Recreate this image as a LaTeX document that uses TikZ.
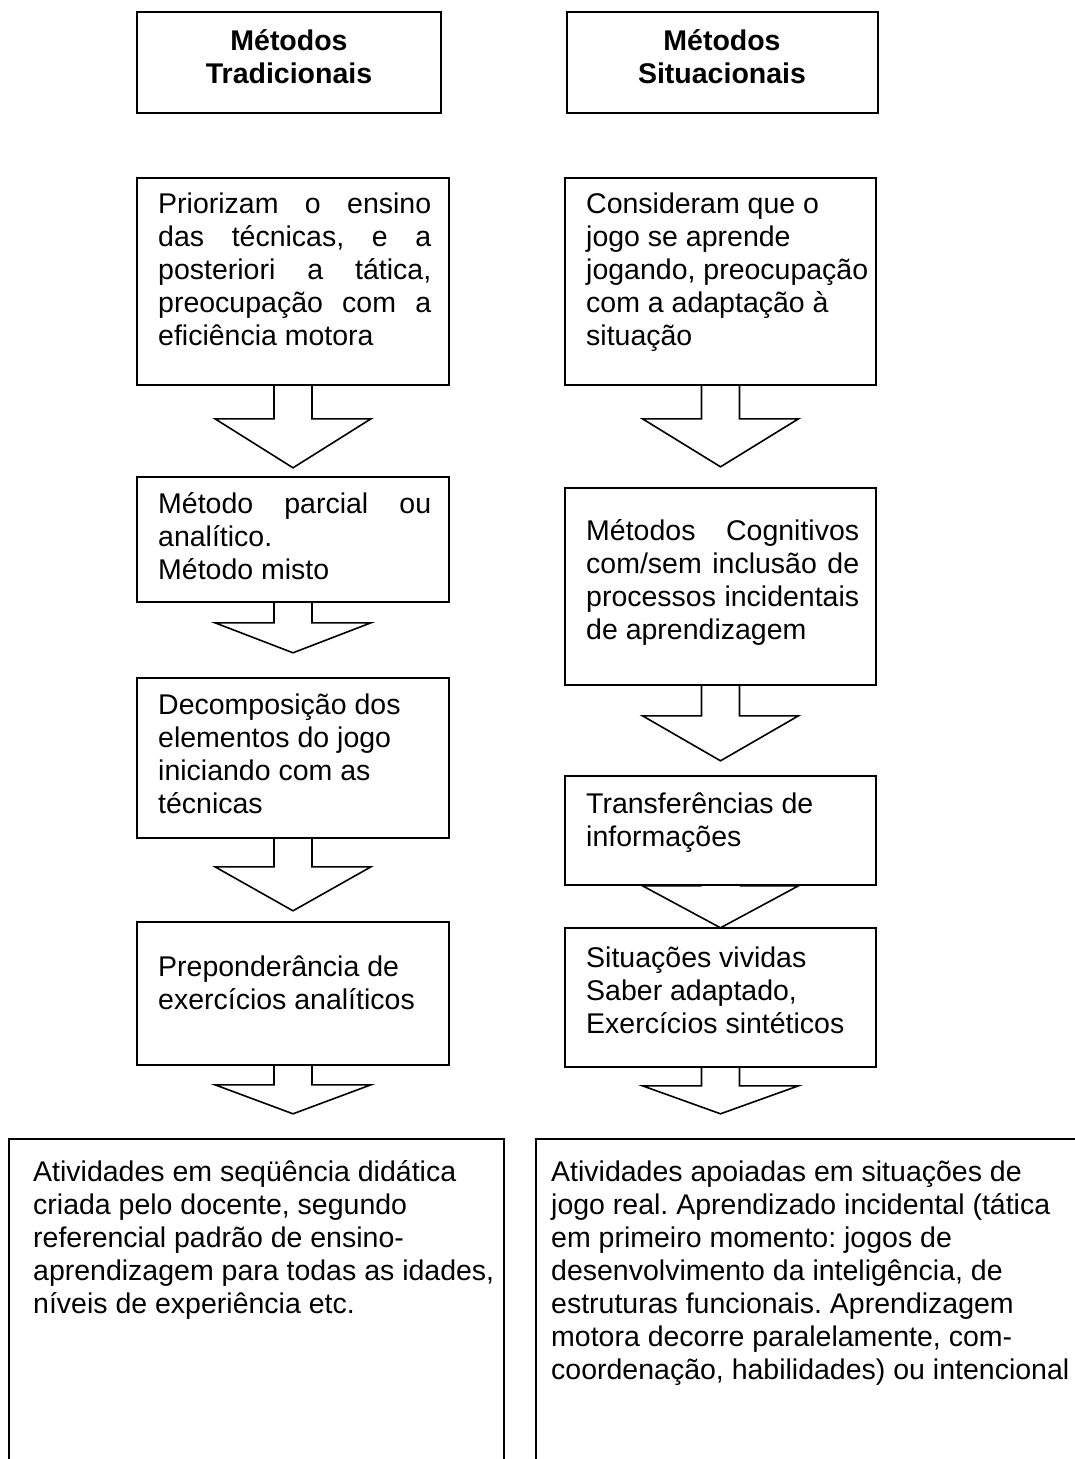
\documentclass[tikz,border=0pt]{standalone}
\usepackage{fontspec}
\setmainfont{Liberation Sans}
\usetikzlibrary{calc,fit}
\frenchspacing

\newlength\colw
\setlength\colw{273pt}
% a justified line: the spaces stretch to the full column width
\newcommand\jline[1]{\makebox[\colw][s]{#1}}
% hollow block arrow hanging below a box: start, stem length, head length
\newcommand\blockarrow[3]{%
  \draw[barrow] ([xshift=-19pt]#1) -- ++(0,#2) -- ++(-59,0) -- ++(78,#3)
    -- ++(78,-#3) -- ++(-59,0) -- ++(0,-#2);}

\begin{document}
\begin{tikzpicture}[x=1pt,y=-1pt,
  frame/.style={draw, line width=1.6pt, rectangle, inner sep=0pt},
  barrow/.style={draw, line width=1.6pt, line join=miter},
  txt/.style={anchor=base west, inner sep=0pt, font=\fontsize{28.5}{33}\selectfont},
  head/.style={anchor=base, inner sep=0pt, font=\bfseries\fontsize{28.5}{33}\selectfont}]
\useasboundingbox (0,0) rectangle (1074,1459);

% column headings
\node[frame, fit={(137,12) (441,113)}] (TL) {};
\node[frame, fit={(567,12) (878,113)}] (TR) {};
\node[head] (TLt) at (289,50) {\parbox[t]{300pt}{\centering Métodos\\Tradicionais}};
\node[head] (TRt) at (722,50) {\parbox[t]{300pt}{\centering Métodos\\Situacionais}};

% left column
\node[frame, fit={(137,178) (449,385)}] (L1) {};
\node[frame, fit={(137,477) (449,602)}] (L2) {};
\node[frame, fit={(137,678) (449,838)}] (L3) {};
\node[frame, fit={(137,922) (449,1065)}] (L4) {};

\node[txt] (L1t) at (158,213) {\parbox[t]{320pt}{\raggedright
  \jline{Priorizam o ensino}\\
  \jline{das técnicas, e a}\\
  \jline{posteriori a tática,}\\
  \jline{preocupação com a}\\
  eficiência motora}};
\node[txt] (L2t) at (158,513) {\parbox[t]{320pt}{\raggedright
  \jline{Método parcial ou}\\
  analítico.\\
  Método misto}};
\node[txt] (L3t) at (158,714) {\parbox[t]{320pt}{\raggedright
  Decomposição dos\\
  elementos do jogo\\
  iniciando com as\\
  técnicas}};
\node[txt] (L4t) at (158,976) {\parbox[t]{320pt}{\raggedright
  Preponderância de\\
  exercícios analíticos}};

\blockarrow{L1.south}{33}{49}
\blockarrow{L2.south}{20}{30}
\blockarrow{L3.south}{28}{44}
\blockarrow{L4.south}{19}{29}

% right column
\node[frame, fit={(565,178) (876,385)}] (R1) {};
\node[frame, fit={(565,488) (876,685)}] (R2) {};
\node[frame, fit={(565,776) (876,885)}] (R3) {};
\node[frame, fit={(565,928) (876,1067)}] (R4) {};

\node[txt] (R1t) at (586,213) {\parbox[t]{320pt}{\raggedright
  Consideram que o\\
  jogo se aprende\\
  jogando, preocupação\\
  com a adaptação à\\
  situação}};
\node[txt] (R2t) at (586,540) {\parbox[t]{320pt}{\raggedright
  \jline{Métodos Cognitivos}\\
  \jline{com/sem inclusão de}\\
  \jline{processos incidentais}\\
  de aprendizagem}};
\node[txt] (R3t) at (586,813) {\parbox[t]{320pt}{\raggedright
  Transferências de\\
  informações}};
\node[txt] (R4t) at (586,967) {\parbox[t]{320pt}{\raggedright
  Situações vividas\\
  Saber adaptado,\\
  Exercícios sintéticos}};

\blockarrow{R1.south}{33}{48}
\blockarrow{R2.south}{30}{45}
\blockarrow{R3.south}{0}{42}
\blockarrow{R4.south}{18}{28}

% summary boxes, running off the lower edge
\node[frame, fit={(9,1139) (504,1490)}] (BL) {};
\node[frame, fit={(536,1139) (1110,1490)}] (BR) {};

\node[txt] (BLt) at (33,1181) {\parbox[t]{500pt}{\raggedright
  Atividades em seqüência didática\\
  criada pelo docente, segundo\\
  referencial padrão de ensino-\\
  aprendizagem para todas as idades,\\
  níveis de experiência etc.}};
\node[txt] (BRt) at (551,1181) {\parbox[t]{540pt}{\raggedright
  Atividades apoiadas em situações de\\
  jogo real. Aprendizado incidental (tática\\
  em primeiro momento: jogos de\\
  desenvolvimento da inteligência, de\\
  estruturas funcionais. Aprendizagem\\
  motora decorre paralelamente, com-\\
  coordenação, habilidades) ou intencional}};
\end{tikzpicture}
\end{document}
